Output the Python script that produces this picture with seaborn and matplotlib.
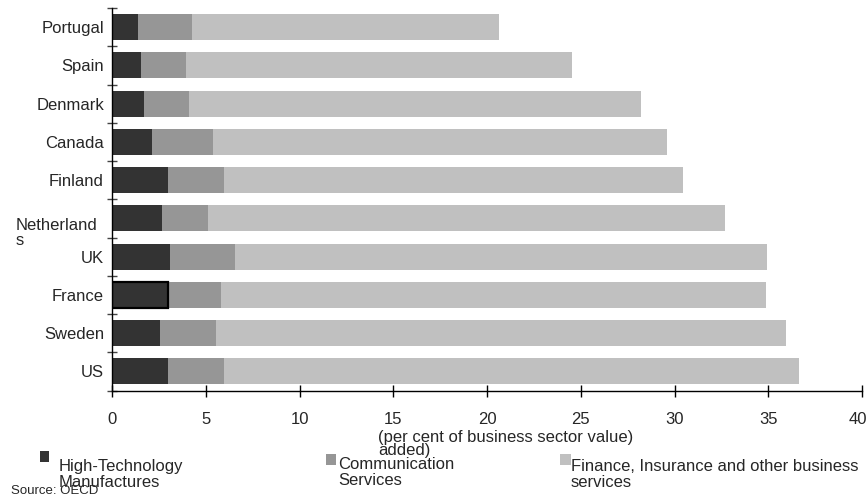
import numpy as np
import pandas as pd
import matplotlib
matplotlib.use("Agg")
import matplotlib.pyplot as plt
from matplotlib.patches import Rectangle
from matplotlib.transforms import ScaledTranslation
import seaborn as sns

# ---------------- data ----------------
countries = ["Portugal", "Spain", "Denmark", "Canada", "Finland",
             "Netherlands", "UK", "France", "Sweden", "US"]
tick_labels = ["Portugal", "Spain", "Denmark", "Canada", "Finland",
               "Netherland\ns", "UK", "France", "Sweden", "US"]
high_tech = [1.37, 1.53, 1.69, 2.12, 2.97, 2.65, 3.08, 2.97, 2.54, 2.97]
communication = [2.88, 2.40, 2.40, 3.25, 2.99, 2.45, 3.47, 2.83, 2.99, 2.99]
finance = [16.4, 20.6, 24.1, 24.2, 24.5, 27.6, 28.4, 29.1, 30.4, 30.7]
series_names = ["High-Technology\nManufactures", "Communication\nServices",
                "Finance, Insurance and other business\nservices"]
x_ticks = [0, 5, 10, 15, 20, 25, 30, 35, 40]
x_label = "(per cent of business sector value)\nadded)"
source = "Source: OECD"
highlight = "France"

# ---------------- style ----------------
colors = ["#333333", "#969696", "#c0c0c0"]
sns.set_style("white")
plt.rcParams["font.family"] = ["Liberation Sans", "DejaVu Sans"]
plt.rcParams["font.size"] = 12

W, H = 866, 500
fig = plt.figure(figsize=(W / 100, H / 100), dpi=100)
ax_l, ax_r, ax_t, ax_b = 112.3, 862.0, 8.0, 390.5
ax = fig.add_axes([ax_l / W, 1 - ax_b / H, (ax_r - ax_l) / W, (ax_b - ax_t) / H])

df = pd.DataFrame({"country": countries, "ht": high_tech,
                   "comm": communication, "fin": finance})
df["cum2"] = df["ht"] + df["comm"]
df["total"] = df["cum2"] + df["fin"]

bw = 0.68
for col, c in [("total", colors[2]), ("cum2", colors[1]), ("ht", colors[0])]:
    sns.barplot(data=df, x=col, y="country", order=countries, orient="h",
                color=c, saturation=1, width=bw, errorbar=None,
                linewidth=0, ax=ax)

# outline highlighted bar (dark segment)
n = len(countries)
hi = countries.index(highlight)
p = ax.patches[2 * n + hi]
p.set_edgecolor("black")
p.set_linewidth(1.6)

ax.set_xlim(0, 40)
ax.set_ylim(n - 0.5, -0.5)
ax.set_xticks(x_ticks)
ax.set_xticklabels([str(t) for t in x_ticks])
ax.set_yticks(range(n))
ax.set_yticklabels(tick_labels)
ax.set_yticks(np.arange(-0.5, n, 1), minor=True)
ax.set_ylabel("")
ax.set_xlabel("")

for s in ["top", "right"]:
    ax.spines[s].set_visible(False)
for s in ["left", "bottom"]:
    ax.spines[s].set_color("black")
    ax.spines[s].set_linewidth(1.0)

ax.tick_params(axis="x", which="major", bottom=True, direction="inout",
               length=8.6, width=1.0, color="black", pad=11, labelsize=12)
ax.tick_params(axis="y", which="major", left=True, length=0, pad=6,
               labelsize=12)
ax.tick_params(axis="y", which="minor", left=True, direction="inout",
               length=7, width=1.0, color="#444444")

for lab in ax.get_yticklabels():
    if "\n" in lab.get_text():
        lab.set_multialignment("left")
        lab.set_verticalalignment("top")
        lab.set_linespacing(1.0)
        lab.set_transform(lab.get_transform() +
                          ScaledTranslation(-7 / 100, 0, fig.dpi_scale_trans))

# keep the last x tick label inside the canvas as in the original
last = ax.get_xticklabels()[-1]
last.set_transform(last.get_transform() +
                   ScaledTranslation(-4 / 100, 0, fig.dpi_scale_trans))

# axis title (left-aligned, wrapped as in original)
fig.text(378 / W, 1 - 430 / H, x_label, ha="left", va="top",
         fontsize=12, linespacing=0.85)

# legend drawn manually
leg_sq = [(40, 451, 9, 11), (326, 454, 10, 11), (560, 454, 11, 11)]
leg_txt = [(59, 459), (338, 457), (571, 459)]
for (sx, sy, sw, sh), (tx, ty), name, c in zip(leg_sq, leg_txt, series_names, colors):
    fig.add_artist(Rectangle((sx / W, 1 - (sy + sh) / H), sw / W, sh / H,
                             transform=fig.transFigure, facecolor=c,
                             edgecolor="none"))
    fig.text(tx / W, 1 - ty / H, name, ha="left", va="top", fontsize=12,
             linespacing=1.1)

fig.text(11 / W, 1 - 491 / H, source, ha="left", va="center", fontsize=9.5)

fig.savefig("out.png", dpi=100)
